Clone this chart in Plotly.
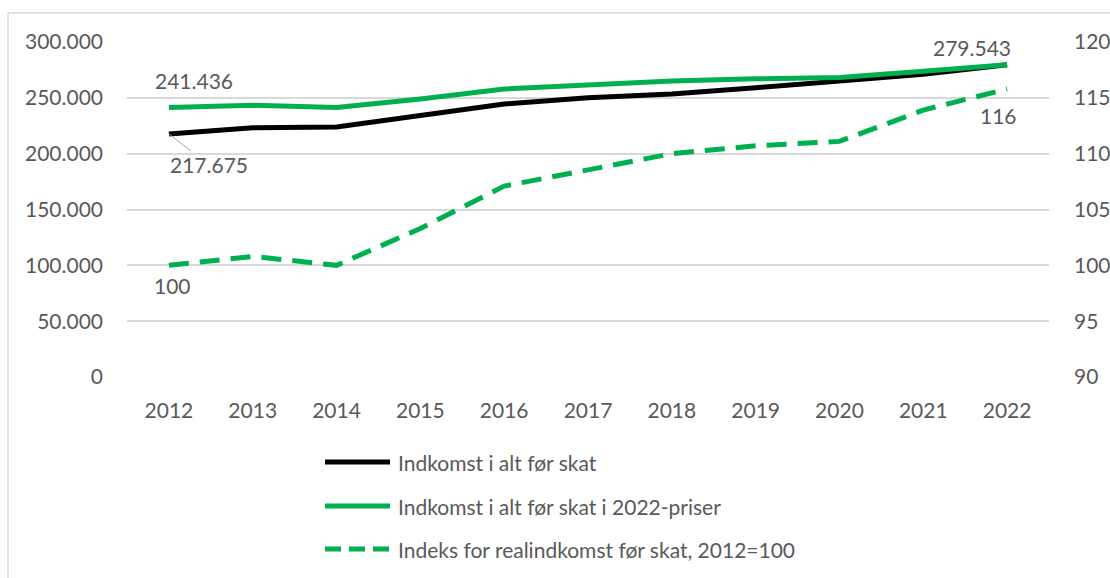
import plotly.graph_objects as go

years = [2012, 2013, 2014, 2015, 2016, 2017, 2018, 2019, 2020, 2021, 2022]
income_nominal = [217675, 223200, 223900, 233700, 244500, 250000, 253500, 259000, 264500, 271000, 279543]
income_2022 = [241436, 243300, 241300, 249000, 258000, 261500, 265000, 267000, 268300, 273800, 279543]
real_index = [100, 100.8, 100.0, 103.3, 107.1, 108.5, 110.0, 110.7, 111.1, 113.9, 115.8]

legend_names = ["Indkomst i alt før skat", "Indkomst i alt før skat i 2022-priser",
                "Indeks for realindkomst før skat, 2012=100"]

GREEN = "#00B050"
TXT = "#595959"
GRID = "#D9D9D9"
FONT = "Lato, Open Sans, sans-serif"
FS = 21

W, H = 1110, 578
L, T, R, B = 127, 42, 61, 201
pw, ph = W - L - R, H - T - B

fig = go.Figure()
fig.add_trace(go.Scatter(x=years, y=income_nominal, mode="lines", name=legend_names[0],
                         line=dict(color="black", width=5)))
fig.add_trace(go.Scatter(x=years, y=income_2022, mode="lines", name=legend_names[1],
                         line=dict(color=GREEN, width=5)))
fig.add_trace(go.Scatter(x=years, y=real_index, mode="lines", name=legend_names[2],
                         line=dict(color=GREEN, width=5, dash="20px,11px"), yaxis="y2"))


def px(xp):
    return (xp - L) / pw


def py(yp):
    return 1 - (yp - T) / ph


shapes = [
    dict(type="line", xref="paper", yref="paper", x0=px(8), x1=px(8), y0=py(13), y1=py(600),
         line=dict(color=GRID, width=1.5)),
    dict(type="line", xref="paper", yref="paper", x0=px(8), x1=px(1120), y0=py(13), y1=py(13),
         line=dict(color=GRID, width=1.5)),
]
annotations = []
# manual legend
leg_rows = [462, 506, 549]
leg_styles = [dict(color="black", width=5), dict(color=GREEN, width=5),
              dict(color=GREEN, width=5, dash="16px,8px")]
for name, yr, st in zip(legend_names, leg_rows, leg_styles):
    shapes.append(dict(type="line", xref="paper", yref="paper", x0=px(325), x1=px(390),
                       y0=py(yr), y1=py(yr), line=st))
    annotations.append(dict(xref="paper", yref="paper", x=px(396), y=py(yr), text=name,
                            showarrow=False, xanchor="left", yanchor="middle",
                            font=dict(size=FS, color=TXT, family=FONT)))


def fmt(v):
    return f"{v:,.0f}".replace(",", ".")


lab_font = dict(size=FS, color=TXT, family=FONT)
annotations += [
    dict(x=years[0], y=income_2022[0], text=fmt(income_2022[0]), showarrow=False,
         xshift=25, yshift=27, font=lab_font),
    dict(x=years[0], y=income_nominal[0], text=fmt(income_nominal[0]), showarrow=True,
         arrowhead=0, arrowwidth=1, arrowcolor="#A6A6A6", ax=40, ay=31, standoff=0,
         font=lab_font),
    dict(x=years[-1], y=income_2022[-1], text=fmt(income_2022[-1]), showarrow=False,
         xshift=-35, yshift=17, font=lab_font),
    dict(x=years[0], y=real_index[0], text=f"{round(real_index[0])}", showarrow=False,
         yref="y2", xshift=4, yshift=-20, font=lab_font),
    dict(x=years[-1], y=real_index[-1], text=f"{round(real_index[-1])}", showarrow=False,
         yref="y2", xshift=-9, yshift=-27, font=lab_font),
]

fig.update_layout(
    width=W, height=H,
    margin=dict(l=L, r=R, t=T, b=B, pad=0, autoexpand=False),
    paper_bgcolor="white", plot_bgcolor="white",
    separators=",.",
    showlegend=False,
    font=dict(family=FONT, size=FS, color=TXT),
    xaxis=dict(range=[2011.5, 2022.5], tickmode="array", tickvals=years,
               ticktext=[str(y) for y in years], showgrid=False, zeroline=False,
               showline=False, ticks="", ticklabelstandoff=19, automargin=False,
               tickfont=dict(size=FS, color=TXT)),
    yaxis=dict(range=[0, 300000], dtick=50000, tickformat=",.0f", showgrid=True,
               gridcolor=GRID, gridwidth=1.5, zeroline=False, showline=False,
               ticks="", ticklabelstandoff=23, automargin=False,
               tickfont=dict(size=FS, color=TXT)),
    yaxis2=dict(range=[90, 120], dtick=5, overlaying="y", side="right", showgrid=False,
                zeroline=False, showline=False, ticks="", ticklabelstandoff=24,
                automargin=False, tickfont=dict(size=FS, color=TXT)),
    shapes=shapes,
    annotations=annotations,
)

fig.write_html("out.html", config={"displayModeBar": False},
               post_script="document.body.style.margin='0';document.body.style.overflow='hidden';")
